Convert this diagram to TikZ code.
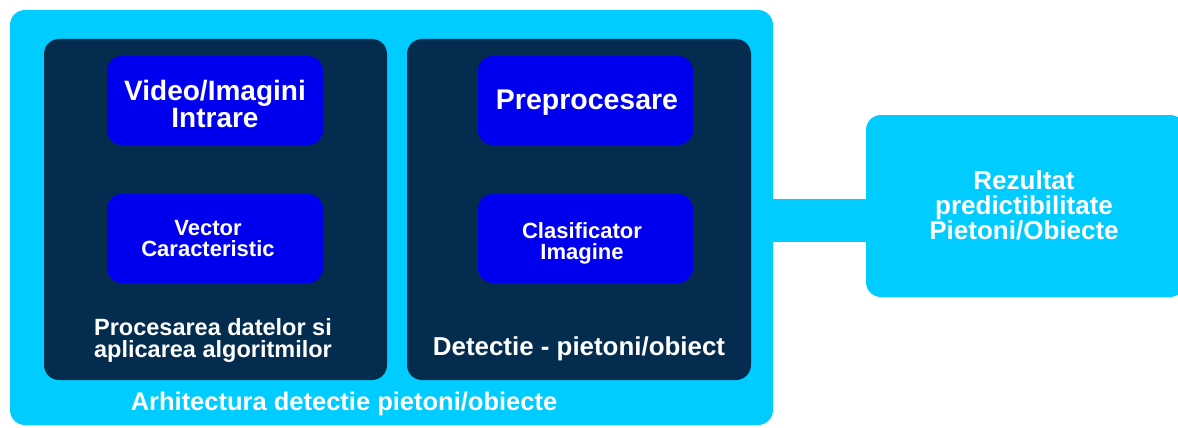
\documentclass[tikz,border=0pt]{standalone}
\usepackage{fontspec}
\setmainfont{Liberation Sans}
\definecolor{lightb}{HTML}{00CCFF}
\definecolor{navy}{HTML}{042C4F}
\definecolor{pureb}{HTML}{0000EE}
\tikzset{
  outerbox/.style={fill=lightb, rounded corners=15pt, inner sep=0pt},
  panel/.style={fill=navy, rounded corners=15pt, minimum width=343pt, minimum height=341pt, inner sep=0pt},
  bluebox/.style={fill=pureb, rounded corners=15pt, minimum width=216pt, minimum height=89pt, inner sep=0pt},
  lbl/.style={text=white, align=center, inner sep=0pt},
  bar/.style={lightb, line width=43pt}
}
\begin{document}
\begin{tikzpicture}[x=1pt, y=-1pt]
\useasboundingbox (0,0) rectangle (1178,428);
\clip (0,0) rectangle (1178,428);
\fill[white] (0,0) rectangle (1178,428);
% outer container
\node[outerbox, minimum width=763pt, minimum height=415pt] (outer) at (391.5,217.5) {};
% result box
\node[outerbox, minimum width=319pt, minimum height=182pt] (result) at (1025.5,206) {};
% connector
\coordinate (conn) at (0,220.5);
\draw[bar] (outer.east |- conn) -- (result.west |- conn);
% panels
\node[panel] (panelL) at (215.5,209.5) {};
\node[panel, minimum width=344pt] (panelR) at (579,209.5) {};
% blue boxes
\node[bluebox] (video) at (215,100.5) {};
\node[bluebox] (vector) at (215,238.5) {};
\node[bluebox, minimum width=215pt] (prep) at (585.5,100.5) {};
\node[bluebox, minimum width=215pt] (clas) at (585.5,238.5) {};
% labels
\node[lbl, font=\bfseries\fontsize{28}{27}\selectfont] (tvideo) at (215,103.5) {Video/Imagini\\Intrare};
\node[lbl, font=\bfseries\fontsize{22}{21}\selectfont] (tvector) at (208,239) {Vector\\Caracteristic};
\node[lbl, font=\bfseries\fontsize{28.5}{24}\selectfont, anchor=base] (tprep) at (587,109) {Preprocesare};
\node[lbl, font=\bfseries\fontsize{22}{21}\selectfont] (tclas) at (582,243) {Clasificator\\Imagine};
\node[lbl, font=\bfseries\fontsize{23.5}{22}\selectfont] (tproc) at (213,340.5) {Procesarea datelor si\\aplicarea algoritmilor};
\node[lbl, font=\bfseries\fontsize{25.9}{20}\selectfont, anchor=base] (tdet) at (579,355) {Detectie - pietoni/obiect};
\node[lbl, font=\bfseries\fontsize{25.5}{20}\selectfont, anchor=base] (tarh) at (344,410) {Arhitectura detectie pietoni/obiecte};
\node[lbl, font=\bfseries\fontsize{26}{25}\selectfont] (tres) at (1024,205) {Rezultat\\predictibilitate\\Pietoni/Obiecte};
\end{tikzpicture}
\end{document}
